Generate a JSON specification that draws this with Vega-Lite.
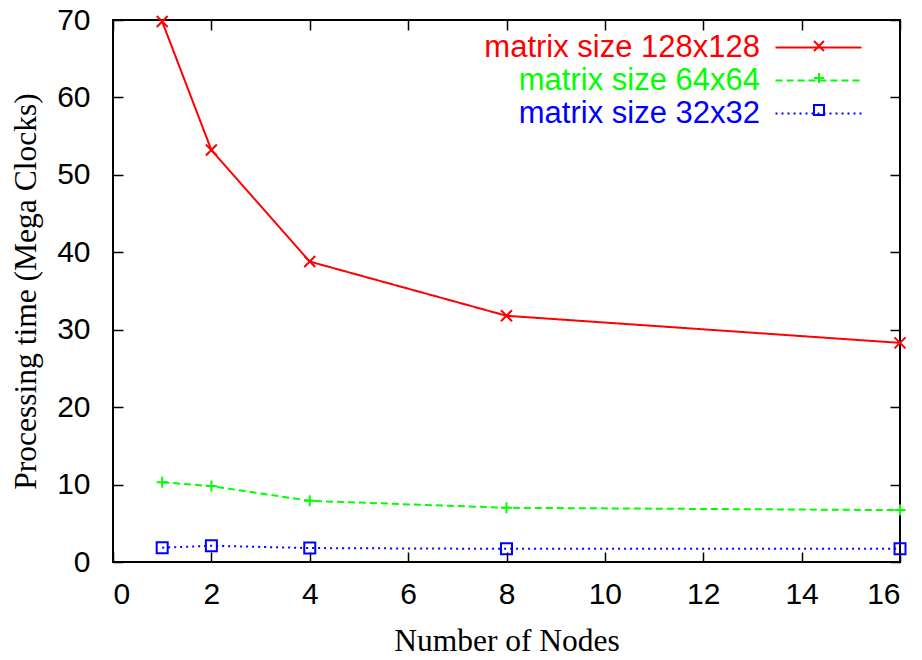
{
  "$schema": "https://vega.github.io/schema/vega-lite/v6.json",
  "width": 787,
  "height": 542,
  "autosize": {"type": "none"},
  "padding": {"left": 113, "top": 20, "right": 22, "bottom": 98},
  "background": "white",
  "config": {
    "view": {"stroke": "black", "strokeWidth": 2},
    "axis": {
      "domain": false,
      "grid": false,
      "ticks": true,
      "tickColor": "black",
      "tickWidth": 1.5,
      "tickSize": 10,
      "offset": -10,
      "labelFont": "Liberation Sans",
      "labelFontSize": 30,
      "labelColor": "black",
      "titleFont": "Liberation Serif",
      "titleFontSize": 31.5,
      "titleFontWeight": "normal",
      "titleColor": "black"
    }
  },
  "data": {
    "values": [
      {"series": "matrix size 128x128", "nodes": 1, "time": 69.8},
      {"series": "matrix size 128x128", "nodes": 2, "time": 53.2},
      {"series": "matrix size 128x128", "nodes": 4, "time": 38.8},
      {"series": "matrix size 128x128", "nodes": 8, "time": 31.8},
      {"series": "matrix size 128x128", "nodes": 16, "time": 28.3},
      {"series": "matrix size 64x64", "nodes": 1, "time": 10.3},
      {"series": "matrix size 64x64", "nodes": 2, "time": 9.8},
      {"series": "matrix size 64x64", "nodes": 4, "time": 7.9},
      {"series": "matrix size 64x64", "nodes": 8, "time": 7.0},
      {"series": "matrix size 64x64", "nodes": 16, "time": 6.7},
      {"series": "matrix size 32x32", "nodes": 1, "time": 1.85},
      {"series": "matrix size 32x32", "nodes": 2, "time": 2.1},
      {"series": "matrix size 32x32", "nodes": 4, "time": 1.8},
      {"series": "matrix size 32x32", "nodes": 8, "time": 1.7},
      {"series": "matrix size 32x32", "nodes": 16, "time": 1.7}
    ]
  },
  "layer": [
    {
      "mark": {"type": "line", "strokeWidth": 2},
      "encoding": {
        "x": {
          "field": "nodes", "type": "quantitative",
          "scale": {"domain": [0, 16], "nice": false},
          "axis": {"orient": "bottom", "title": "Number of Nodes", "values": [0, 2, 4, 6, 8, 10, 12, 14, 16], "labelPadding": 17, "titlePadding": 16}
        },
        "y": {
          "field": "time", "type": "quantitative",
          "scale": {"domain": [0, 70], "nice": false},
          "axis": {"orient": "left", "title": "Processing time (Mega Clocks)", "values": [0, 10, 20, 30, 40, 50, 60, 70], "labelPadding": 23, "titlePadding": 14}
        },
        "color": {
          "field": "series", "type": "nominal",
          "sort": ["matrix size 128x128", "matrix size 64x64", "matrix size 32x32"],
          "scale": {"range": ["#ff0000", "#00ff00", "#0000ff"]},
          "legend": null
        },
        "strokeDash": {
          "field": "series", "type": "nominal",
          "sort": ["matrix size 128x128", "matrix size 64x64", "matrix size 32x32"],
          "scale": {"range": [[1, 0], [7, 4], [2, 4]]},
          "legend": {
            "orient": "none", "legendX": 690, "legendY": 12, "title": null,
            "symbolType": "M-4,0H4", "symbolSize": 462, "symbolStrokeWidth": 2,
            "symbolStrokeColor": {"expr": "scale('color', datum.value)"},
            "labelAlign": "right", "labelOffset": -74, "labelLimit": 500,
            "labelFont": "Liberation Sans", "labelFontSize": 31,
            "labelColor": {"expr": "scale('color', datum.value)"},
            "rowPadding": 1
          }
        }
      }
    },
    {
      "mark": {"type": "point", "filled": false, "strokeWidth": 2, "size": 121, "opacity": 1},
      "encoding": {
        "x": {
          "field": "nodes", "type": "quantitative",
          "scale": {"domain": [0, 16], "nice": false},
          "axis": {"orient": "top", "title": null, "labels": false, "values": [0, 2, 4, 6, 8, 10, 12, 14, 16]}
        },
        "y": {
          "field": "time", "type": "quantitative",
          "scale": {"domain": [0, 70], "nice": false},
          "axis": {"orient": "right", "title": null, "labels": false, "values": [0, 10, 20, 30, 40, 50, 60, 70]}
        },
        "color": {
          "field": "series", "type": "nominal",
          "sort": ["matrix size 128x128", "matrix size 64x64", "matrix size 32x32"],
          "legend": null
        },
        "shape": {
          "field": "series", "type": "nominal",
          "scale": {
            "domain": ["matrix size 128x128", "matrix size 64x64", "matrix size 32x32"],
            "range": ["M-1,-1L1,1M-1,1L1,-1", "M-1,0H1M0,-1V1", "square"]
          },
          "legend": {
            "orient": "none", "legendX": 691, "legendY": 10, "title": null,
            "symbolSize": 100, "symbolStrokeWidth": 2, "symbolFillColor": "transparent",
            "symbolStrokeColor": {"expr": "scale('color', datum.value)"},
            "clipHeight": 32,
            "labelExpr": "''", "labelFontSize": 30,
            "rowPadding": 0
          }
        }
      }
    }
  ],
  "resolve": {"axis": {"x": "independent", "y": "independent"}}
}
